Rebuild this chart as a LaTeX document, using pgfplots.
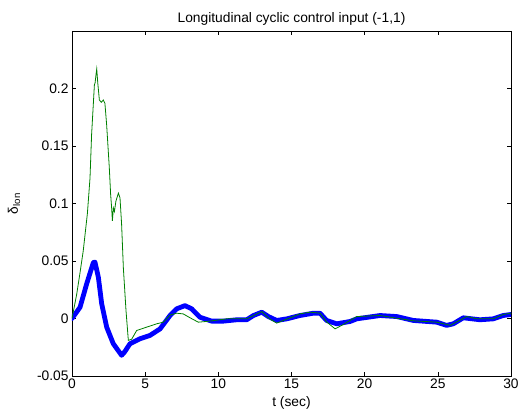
\documentclass[border=0pt]{standalone}
\usepackage{fontspec}
\setmainfont{Liberation Sans}
\usepackage{pgfplots}
\pgfplotsset{compat=1.18}
\definecolor{mgreen}{rgb}{0,0.5,0}
\begin{document}
\begin{tikzpicture}
\useasboundingbox (-72bp,-38bp) rectangle (449bp,376bp);
\begin{axis}[
  scale only axis, width=439bp, height=345bp,
  xmin=0, xmax=30, ymin=-0.05, ymax=0.25,
  xtick={0,5,...,30},
  ytick={-0.05,0,0.05,0.1,0.15,0.2},
  yticklabels={-0.05,0,0.05,0.1,0.15,0.2},
  tick align=inside, major tick length=4bp,
  axis line style={line width=0.8bp},
  every tick/.style={black, line width=0.6bp},
  /pgf/number format/assume math mode=true,
  tick label style={font=\fontsize{13.8bp}{16bp}\selectfont},
  label style={font=\fontsize{13.8bp}{16bp}\selectfont},
  title style={font=\fontsize{13.8bp}{16bp}\selectfont, yshift=-4bp},
  xticklabel style={yshift=1bp},
  title={Longitudinal cyclic control input (-1,1)},
  xlabel={t (sec)},
  ylabel={δ\textsubscript{lon}},
  xlabel style={yshift=-1bp},
  ylabel style={yshift=10bp},
]
\addplot[blue, line width=4.8bp, line join=round, line cap=round] coordinates {
(0,0) (0.55,0.0098) (1.0,0.030) (1.46,0.0487) (1.57,0.049) (1.8,0.036)
(2.03,0.0127) (2.37,-0.0075) (2.82,-0.0219) (3.39,-0.032) (3.6,-0.029)
(3.96,-0.022) (4.65,-0.0176) (5.33,-0.0147) (6.02,-0.009) (6.7,0.0026)
(7.15,0.0084) (7.72,0.0112) (8.18,0.0084) (8.75,0.0011) (9.55,-0.0023)
(10.34,-0.0023) (11.26,-0.0011) (11.94,-0.0011) (12.4,0.0026) (12.97,0.0055)
(13.42,0.0017) (13.99,-0.0017) (14.68,-0.0003) (15.58,0.0026) (16.49,0.0046)
(16.95,0.0046) (17.4,-0.0017) (18.09,-0.0046) (19.0,-0.0026) (19.46,-0.0003)
(21.05,0.0026) (22.19,0.0017) (23.33,-0.0017) (24.93,-0.0032) (25.6,-0.006)
(26.06,-0.0046) (26.74,0.0006) (27.88,-0.0011) (28.79,-0.0003) (29.47,0.0026)
(30,0.0035)
};
\addplot[mgreen, line width=0.8bp] coordinates {
(0,0) (0.32,0.021) (0.55,0.040) (0.77,0.059) (1.05,0.091) (1.23,0.122)
(1.34,0.160) (1.53,0.203) (1.58,0.205) (1.64,0.212) (1.69,0.217) (1.76,0.205)
(1.87,0.190) (2.0,0.188) (2.14,0.190) (2.25,0.187) (2.37,0.168) (2.55,0.131)
(2.64,0.108) (2.71,0.096) (2.76,0.085) (2.83,0.096) (2.9,0.093) (3.0,0.102)
(3.17,0.109) (3.28,0.105) (3.39,0.082) (3.51,0.044) (3.69,0.007) (3.85,-0.019)
(4.08,-0.018) (4.42,-0.0104) (5.1,-0.0075) (5.79,-0.0046) (6.24,-0.0032)
(6.7,0.0030) (7.15,0.0046) (7.6,0.004) (8.07,0.0006) (8.63,-0.0032)
(9.4,-0.0023) (10.57,-0.0003) (11.94,-0.0003) (12.97,0.006) (13.5,-0.0003)
(13.99,-0.004) (15.58,0.004) (16.27,0.0055) (16.95,0.0046) (17.4,-0.003)
(17.98,-0.009) (18.43,-0.006) (19.0,-0.0017) (19.46,0.0017) (21.05,0.0026)
(23.33,-0.002) (24.93,-0.0032) (25.4,-0.0046) (25.85,-0.006) (26.97,0.0017)
(27.65,-0.0003) (28.79,-0.0003) (29.47,0.0035) (30,0.0046)
};
\end{axis}
\end{tikzpicture}
\end{document}
